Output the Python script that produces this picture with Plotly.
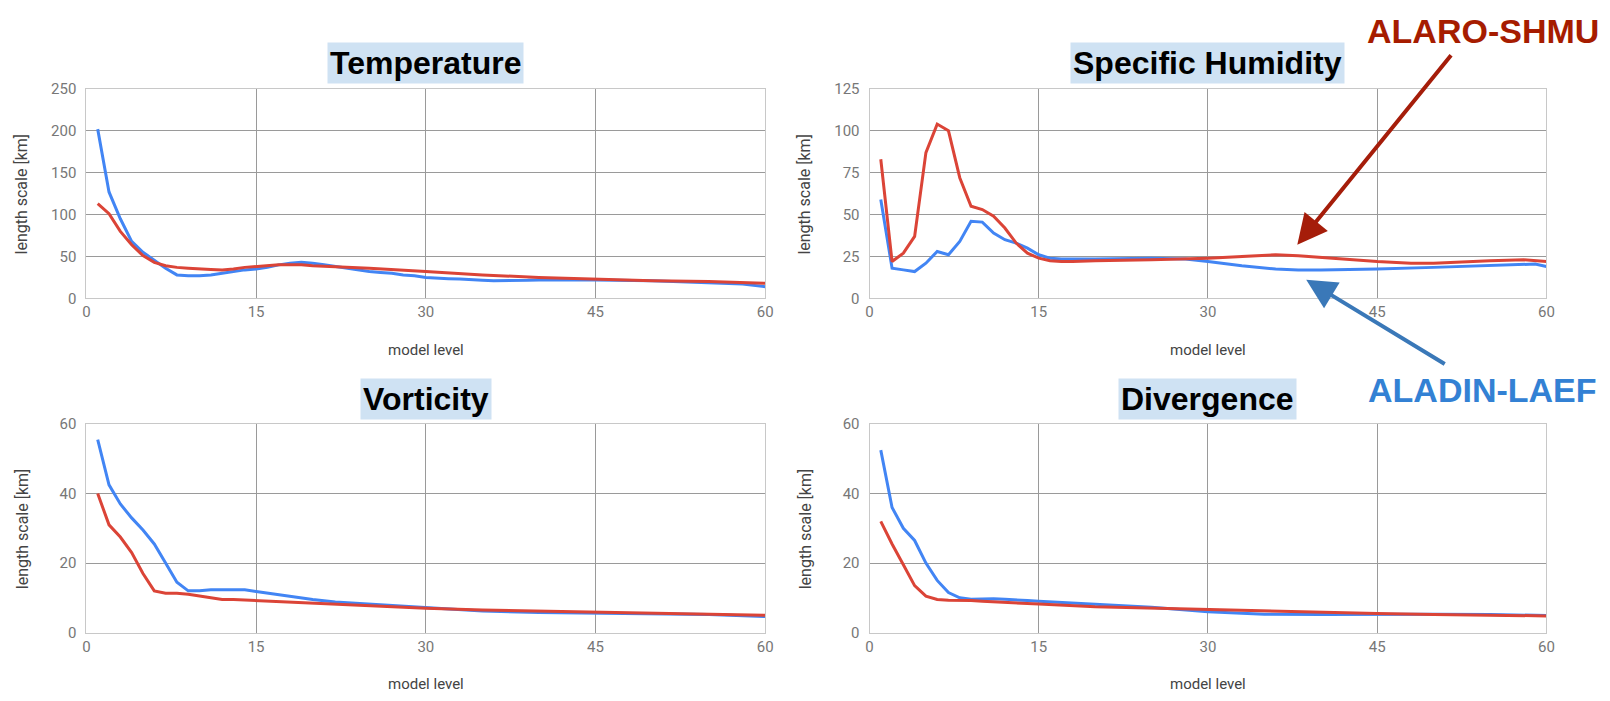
import plotly.graph_objects as go

# ---------------- data ----------------
temp_blue_x = [1,2,3,4,5,6,7,8,9,10,11,12,13,14,15,16,17,18,19,20,21,22,23,24,25,26,27,28,29,30,31,32,33,34,35,36,37,38,39,40,45,50,55,58,60]
temp_blue_y = [202,127,95,68,55,45,36,28,27,27,28,30,32,34,35,37,40,42,43,42,40,38,36,34,32,31,30,28,27,25,24,23.5,23,22,21.5,21,21,21,21.5,22,22,21,19,17,14]
temp_red_x = [1,2,3,4,5,6,7,8,9,10,11,12,13,14,15,16,17,18,19,20,22,25,30,35,40,45,50,55,60]
temp_red_y = [113,101,80,64,51,43,39,37,36,35,34.5,34,35,37,38,39,40,40,40,39,38,36,32,28,25,23,21,20,18]

hum_blue_x = [1,2,3,4,5,6,7,8,9,10,11,12,13,14,15,16,17,20,25,28,30,33,36,38,40,45,50,55,58,59,60]
hum_blue_y = [59,18,17,16,21,28,26,34,46,45.5,39,35,33,30,26,24,23.5,23.5,24,23.5,22,19.5,17.5,17,17,17.5,18.5,19.5,20.5,20.5,19]
hum_red_x = [1,2,3,4,5,6,7,8,9,10,11,12,13,14,15,16,17,18,20,25,30,33,36,38,40,42,45,48,50,55,58,60]
hum_red_y = [83,22,27,37,87,104,100,72,55,53,49,42,33,27,24,22.5,22,22,22.5,23,24,25,26,25.5,24.5,23.5,22,21,21,22.5,23,22]

vor_blue_x = [1,2,3,4,5,6,7,8,9,10,11,12,13,14,15,16,17,18,20,22,25,30,35,40,45,50,55,60]
vor_blue_y = [55.5,42.5,37,33,29.5,25.5,20,14.5,12,12,12.3,12.3,12.3,12.3,11.8,11.3,11,10.5,9.5,8.8,8.2,7.3,6.2,5.8,5.6,5.4,5.2,4.6]
vor_red_x = [1,2,3,4,5,6,7,8,9,10,11,12,13,15,20,25,30,35,40,45,50,55,60]
vor_red_y = [40,31,27.5,23,17,12,11.3,11.3,11,10.5,9.8,9.5,9.5,9.2,8.3,7.6,7,6.5,6.2,5.9,5.6,5.4,5]

div_blue_x = [1,2,3,4,5,6,7,8,9,10,11,12,13,14,15,20,25,30,35,40,45,50,55,60]
div_blue_y = [52.5,36,30,26.5,20,15,11.5,10,9.6,9.7,9.7,9.6,9.5,9.2,9,8.2,7.3,6,5.3,5.2,5.3,5.3,5.2,4.9]
div_red_x = [1,2,3,4,5,6,7,8,9,10,12,15,20,25,30,35,40,45,50,55,60]
div_red_y = [32,25.5,19.5,13.5,10.5,9.5,9.3,9.3,9.2,9,8.6,8.2,7.4,7,6.5,6.2,5.8,5.5,5.2,5.1,4.8]

titles = ["Temperature", "Specific Humidity", "Vorticity", "Divergence"]
x_ticks = [0, 15, 30, 45, 60]
y_ranges = [(0, 250, 50), (0, 125, 25), (0, 60, 20), (0, 60, 20)]
y_title = "length scale [km]"
x_title = "model level"
label_red = "ALARO-SHMU"
label_blue = "ALADIN-LAEF"

# ---------------- layout geometry ----------------
W, H = 1610, 701
BLUE = "#4285f4"
RED = "#db4437"

panels = [
    dict(x0=83, x1=767, y0=82, y1=297, tty=55),
    dict(x0=872, x1=1554, y0=82, y1=297, tty=55),
    dict(x0=83, x1=767, y0=426, y1=640, tty=400),
    dict(x0=872, x1=1554, y0=426, y1=640, tty=400),
]
series = [
    (temp_blue_x, temp_blue_y, temp_red_x, temp_red_y),
    (hum_blue_x, hum_blue_y, hum_red_x, hum_red_y),
    (vor_blue_x, vor_blue_y, vor_red_x, vor_red_y),
    (div_blue_x, div_blue_y, div_red_x, div_red_y),
]

def px(x):
    return x / W

def py(y):
    return 1 - y / H

fig = go.Figure()
annotations = []
for i, (p, s) in enumerate(zip(panels, series)):
    n = "" if i == 0 else str(i + 1)
    bx, by, rx, ry = s
    fig.add_trace(go.Scatter(x=bx, y=by, mode="lines", line=dict(color=BLUE, width=3),
                             xaxis="x" + n, yaxis="y" + n, showlegend=False))
    fig.add_trace(go.Scatter(x=rx, y=ry, mode="lines", line=dict(color=RED, width=3),
                             xaxis="x" + n, yaxis="y" + n, showlegend=False))
    lo, hi, dt = y_ranges[i]
    common = dict(showline=True, mirror=True, linecolor="#c8c8c8", linewidth=1,
                  gridcolor="#9a9a9a", gridwidth=1, zeroline=False, ticks="",
                  tickfont=dict(family="Roboto", size=15, color="#777777"))
    fig.update_layout(**{
        "xaxis" + n: dict(domain=[px(p["x0"]), px(p["x1"])], range=[0, 60],
                          tickvals=x_ticks, anchor="y" + n, **common),
        "yaxis" + n: dict(domain=[py(p["y1"]), py(p["y0"])], range=[lo, hi],
                          dtick=dt, tick0=0, anchor="x" + n, ticklabelstandoff=6, **common),
    })
    cx = (p["x0"] + p["x1"]) / 2
    annotations.append(dict(text="<b>" + titles[i] + "</b>", x=px(cx), y=py(p["tty"]),
                            xref="paper", yref="paper", showarrow=False,
                            xanchor="center", yanchor="middle",
                            font=dict(family="Liberation Sans", size=32, color="black"),
                            bgcolor="#cfe2f3", borderpad=2))
    annotations.append(dict(text=x_title, x=px(cx), y=py(p["y1"] + 53),
                            xref="paper", yref="paper", showarrow=False,
                            xanchor="center", yanchor="middle",
                            font=dict(family="Roboto", size=15, color="#444444")))
    annotations.append(dict(text=y_title, x=px(p["x0"] - 65), y=py((p["y0"] + p["y1"]) / 2),
                            xref="paper", yref="paper", showarrow=False, textangle=-90,
                            xanchor="center", yanchor="middle",
                            font=dict(family="Roboto", size=16, color="#444444")))

# model labels and arrows
annotations.append(dict(text="<b>" + label_red + "</b>", x=px(1490), y=py(23), xref="paper", yref="paper",
                        showarrow=False, xanchor="center", yanchor="middle",
                        font=dict(family="Liberation Sans", size=34, color="#a61c00")))
annotations.append(dict(text="<b>" + label_blue + "</b>", x=px(1490), y=py(391), xref="paper", yref="paper",
                        showarrow=False, xanchor="center", yanchor="middle",
                        font=dict(family="Liberation Sans", size=34, color="#3381d4")))
annotations.append(dict(text="", x=px(1303), y=py(242), xref="paper", yref="paper",
                        showarrow=True, ax=155, ay=-191, arrowcolor="#a51d0a",
                        arrowwidth=4, arrowhead=2, arrowsize=1.5, standoff=0, startstandoff=0))
annotations.append(dict(text="", x=px(1312), y=py(278), xref="paper", yref="paper",
                        showarrow=True, ax=140, ay=85, arrowcolor="#3a78b8",
                        arrowwidth=4, arrowhead=2, arrowsize=1.5, standoff=0, startstandoff=0))

fig.update_layout(width=W, height=H, margin=dict(l=0, r=0, t=0, b=0),
                  paper_bgcolor="white", plot_bgcolor="white",
                  annotations=annotations, showlegend=False)

fig.write_html("out.html")
